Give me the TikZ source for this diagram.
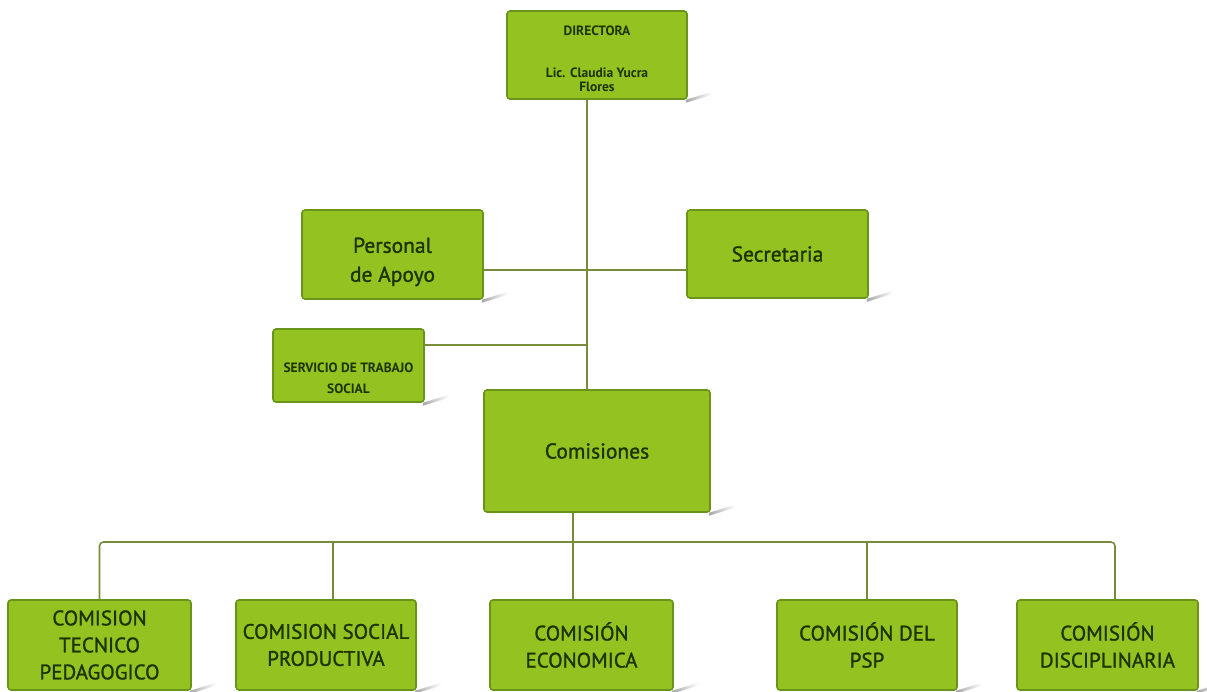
\documentclass[tikz,border=0pt]{standalone}
\usepackage{fontspec}
\setmainfont{PT Sans}[FakeBold=1.2]
\newfontfamily\medfont{PT Sans}[FakeBold=1.2]
\newfontfamily\heavyfont{PT Sans Bold}
\definecolor{boxfill}{RGB}{148,194,32}
\definecolor{boxdraw}{RGB}{104,148,26}
\definecolor{txt}{RGB}{28,52,0}
\definecolor{conn}{RGB}{120,140,60}
\newcommand{\lowered}[2]{\raisebox{#1}[\height][\depth]{\begin{tabular}{@{}c@{}}#2\end{tabular}}}
\tikzset{
  org/.style={draw=boxdraw, line width=1.6pt, fill=boxfill, rounded corners=3pt,
    text=txt, align=center, inner sep=2pt, font=\medfont\fontsize{21.5}{29}\selectfont},
  bottombox/.style={org, minimum height=90pt, font=\medfont\fontsize{21}{27}\selectfont},
  link/.style={draw=conn, line width=1.6pt},
}
\newcommand{\shadowof}[1]{%
  \shade[left color=gray!70, right color=white]
    ([xshift=-2pt,yshift=0pt]#1.south east) -- ([xshift=24pt,yshift=8pt]#1.south east)
    -- ([xshift=24pt,yshift=5pt]#1.south east) -- ([xshift=-2pt,yshift=-3pt]#1.south east) -- cycle;}
\begin{document}
\begin{tikzpicture}[x=1pt,y=-1pt]
\useasboundingbox[fill=white] (0,0) rectangle (1207,692);
\node[org, minimum width=180pt, minimum height=88pt, font=\heavyfont\fontsize{13.5}{14}\selectfont] (dir) at (597,55)
  {\lowered{-6pt}{DIRECTORA\\[28pt]Lic. Claudia Yucra\\Flores}};
\node[org, minimum width=181pt, minimum height=89pt] (pa) at (392.5,254.5) {\lowered{-7pt}{Personal\\de Apoyo}};
\node[org, minimum width=181pt, minimum height=88pt] (sec) at (777.5,254) {Secretaria};
\node[org, minimum width=151pt, minimum height=73pt, font=\heavyfont\fontsize{13.5}{21}\selectfont] (srv) at (348.5,365.5) {\lowered{-13pt}{SERVICIO DE TRABAJO\\SOCIAL}};
\node[org, minimum width=226pt, minimum height=122pt] (com) at (597,451) {Comisiones};
\node[bottombox, minimum width=183pt] (c1) at (99.5,645) {COMISION\\TECNICO\\PEDAGOGICO};
\node[bottombox, minimum width=180pt] (c2) at (326,645) {COMISION SOCIAL\\PRODUCTIVA};
\node[bottombox, minimum width=183pt] (c3) at (581.5,645) {COMISIÓN\\ECONOMICA};
\node[bottombox, minimum width=180pt] (c4) at (867,645) {COMISIÓN DEL\\PSP};
\node[bottombox, minimum width=181pt] (c5) at (1107.5,645) {COMISIÓN\\DISCIPLINARIA};
\foreach \n in {dir,pa,sec,srv,com,c1,c2,c3,c4,c5} {\shadowof{\n}}
\coordinate (spine) at (587,0);
\coordinate (bus) at (0,542);
\coordinate (srvc) at ([yshift=20.5pt]srv.east);
\coordinate (pac) at ([yshift=-15.5pt]pa.east);
\draw[link] (spine |- dir.south) -- (spine |- com.north);
\draw[link] (pac) -- (sec.west |- pac);
\draw[link] (srvc) -- (spine |- srvc);
\draw[link] ([xshift=-24pt]com.south) -- ([xshift=-24pt]com.south |- bus);
\draw[link, rounded corners=4pt] (c1.north) -- (c1.north |- bus) -- ([xshift=7.5pt]c5.north |- bus) -- ([xshift=7.5pt]c5.north);
\draw[link] ([xshift=7pt]c2.north) -- ([xshift=7pt]c2.north |- bus);
\draw[link] ([xshift=-8.5pt]c3.north) -- ([xshift=-8.5pt]c3.north |- bus);
\draw[link] (c4.north) -- (c4.north |- bus);
\end{tikzpicture}
\end{document}
